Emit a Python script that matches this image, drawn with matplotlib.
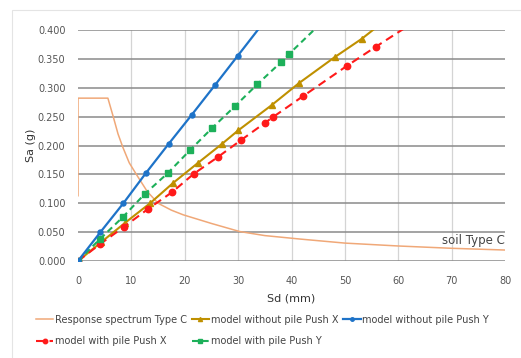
import matplotlib
matplotlib.use("Agg")
import matplotlib.pyplot as plt
from matplotlib.patches import Rectangle

# Response spectrum (ADRS) Type C
spec_sd = [0, 0, 5.6, 6.6, 7.5, 8.4, 9.6, 11.0, 13.0, 15.0, 17.5, 19.7, 25.0, 30.3, 35.0, 41.6, 50.0, 60.0, 70.0, 80.0]
spec_sa = [0.113, 0.282, 0.282, 0.250, 0.220, 0.197, 0.170, 0.149, 0.120, 0.100, 0.088, 0.080, 0.065, 0.051, 0.044, 0.038, 0.031, 0.026, 0.022, 0.019]

# model without pile Push X
wo_x_sd = [0, 4.4, 8.8, 13.5, 17.8, 22.5, 27.0, 30.0, 36.3, 41.4, 48.1, 53.2, 58.0]
wo_x_sa = [0, 0.033, 0.066, 0.100, 0.135, 0.170, 0.203, 0.226, 0.270, 0.308, 0.353, 0.385, 0.420]

# model without pile Push Y
wo_y_sd = [0, 4.2, 8.5, 12.7, 17.0, 21.3, 25.7, 29.9, 38.3]
wo_y_sa = [0, 0.050, 0.100, 0.152, 0.203, 0.253, 0.305, 0.355, 0.455]

# model with pile Push X
w_x_sd = [0, 4.1, 8.6, 13.1, 17.6, 21.7, 26.2, 30.5, 35.0, 36.5, 42.1, 50.4, 55.8, 63.0]
w_x_sa = [0, 0.029, 0.059, 0.090, 0.119, 0.151, 0.180, 0.209, 0.239, 0.249, 0.285, 0.338, 0.371, 0.414]

# model with pile Push Y
w_y_sd = [0, 4.1, 8.4, 12.5, 16.8, 21.0, 25.1, 29.4, 33.6, 38.0, 39.5, 46.0]
w_y_sa = [0, 0.038, 0.076, 0.116, 0.152, 0.192, 0.230, 0.268, 0.306, 0.344, 0.358, 0.416]

x_ticks = [0, 10, 20, 30, 40, 50, 60, 70, 80]
y_ticks = [0.0, 0.05, 0.10, 0.15, 0.20, 0.25, 0.30, 0.35, 0.40]

plt.rcParams['font.family'] = ['DejaVu Sans']

fig = plt.figure(figsize=(5.21, 3.58), dpi=100)
fig.patches.append(Rectangle((12/521, -0.1), 1.2, 1 - 10/358 + 0.1, transform=fig.transFigure,
                             fill=False, edgecolor='#e4e4e4', linewidth=0.8))
ax = fig.add_axes([78/521, 1 - 261/358, 427/521, 231/358])

for y in y_ticks:
    ax.axhline(y, color='#8a8a8a', linewidth=1.1, zorder=1)
for x in x_ticks[1:-1]:
    ax.axvline(x, color='#d4d4d4', linewidth=0.9, zorder=0)

l_spec, = ax.plot(spec_sd, spec_sa, color='#F0A878', linewidth=1.1, zorder=3)
l_wox, = ax.plot(wo_x_sd, wo_x_sa, color='#BF9000', linewidth=1.5, marker='^', markersize=4.2, zorder=4)
l_woy, = ax.plot(wo_y_sd, wo_y_sa, color='#1E73C8', linewidth=1.6, marker='o', markersize=3.6, zorder=5)
l_wx, = ax.plot(w_x_sd, w_x_sa, color='#FF1A1A', linewidth=1.5, linestyle=(0, (4, 2.5)), marker='o', markersize=4.6, zorder=4)
l_wy, = ax.plot(w_y_sd, w_y_sa, color='#1DB05A', linewidth=1.5, linestyle=(0, (3, 2)), marker='s', markersize=4.4, zorder=4)

ax.set_xlim(0, 80)
ax.set_ylim(0, 0.4)
ax.set_xticks(x_ticks)
ax.set_yticks(y_ticks)
ax.set_yticklabels([f"{v:.3f}" for v in y_ticks])
for s in ax.spines.values():
    s.set_visible(False)
ax.tick_params(length=0, labelsize=7, labelcolor='#555555')
ax.tick_params(axis='x', pad=11)
ax.tick_params(axis='y', pad=9)
ax.set_xlabel('Sd (mm)', fontsize=8, color='#333333', labelpad=5)
ax.set_ylabel('Sa (g)', fontsize=8, color='#333333', labelpad=1)

ax.text(80, 0.035, 'soil Type C', ha='right', va='center', fontsize=8.5, color='#444444', zorder=6)

handles = [l_spec, l_wx, l_wox, l_wy, l_woy]
labels = ['Response spectrum Type C', 'model with pile Push X', 'model without pile Push X',
          'model with pile Push Y', 'model without pile Push Y']
fig.legend(handles, labels, ncol=3, loc='upper left', bbox_to_anchor=(32/521, 1 - 311/358),
           frameon=False, fontsize=7, labelcolor='#444444', handlelength=1.8, handletextpad=0.15,
           columnspacing=0.5, markerscale=0.7, borderaxespad=0, labelspacing=1.15)

fig.savefig('out.png', dpi=100)
